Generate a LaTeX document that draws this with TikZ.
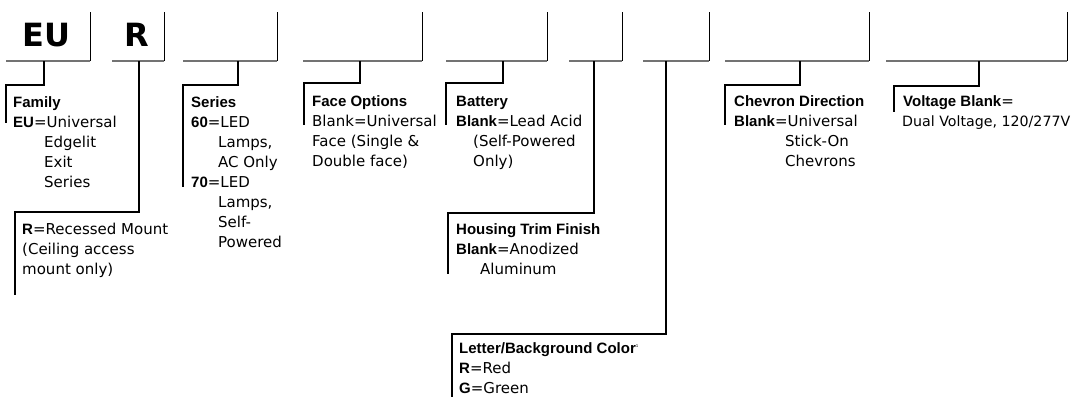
\documentclass[tikz,border=0pt]{standalone}
\usepackage{fontspec}
\setmainfont{DejaVu Sans}[BoldFont={Liberation Sans Bold}]
\newfontfamily\heavy{DejaVu Sans}
\tikzset{
  boxh/.style={draw=black!55, line width=1.3pt},
  boxv/.style={draw=black, line width=0.9pt},
  conn/.style={draw=black, line width=2.6pt, line join=miter, line cap=butt},
  desc/.style={anchor=north west, inner sep=0pt, align=left, font=\fontsize{15}{20}\selectfont},
  big/.style={anchor=base, inner sep=0pt, font=\heavy\bfseries\fontsize{32}{32}\selectfont}
}
\begin{document}
\begin{tikzpicture}[x=1pt, y=-1pt]
\useasboundingbox (0,0) rectangle (1075,396);
% code boxes: left x, right x
\foreach \n/\l/\r in {1/6/90, 2/112/164, 3/183/277, 4/303/422, 5/446/547, 6/569/622, 7/643/709, 8/725/869, 9/886/1067}{
  \draw[boxh] (\l,61) -- (\r,61);
  \draw[boxv] (\r,61) -- (\r,12);
}
\node[big] (eu) at (46.5,47) {EU};
\node[big] (r) at (137,47) {R};
% connector end points
\foreach \n/\d/\s/\x/\e in {1/44/85/6/123, 2/139/212/15/295, 3/238/85/183/187, 4/360/83/304/125, 5/503/83/446/125, 6/594/213/448/274, 7/666/334/452/397, 8/800/85/725/125, 9/979/86/894/112}{
  \coordinate (top\n) at (\d,61);
  \coordinate (end\n) at (\x,\e);
  \draw[conn] (top\n) -- (\d,\s) -- (\x,\s) -- (end\n);
}
% descriptions
\node[desc] (family) at (13,93) {\strut\textbf{Family}\\\textbf{EU}=Universal\\\hspace*{31pt}Edgelit\\\hspace*{31pt}Exit\\\hspace*{31pt}Series};
\node[desc] (mount) at (22,220) {\strut\textbf{R}=Recessed Mount\\(Ceiling access\\mount only)};
\node[desc] (series) at (191,93) {\strut\textbf{Series}\\\textbf{60}=LED\\\hspace*{27pt}Lamps,\\\hspace*{27pt}AC Only\\\textbf{70}=LED\\\hspace*{27pt}Lamps,\\\hspace*{27pt}Self-\\\hspace*{27pt}Powered};
\node[desc] (face) at (312,92) {\strut\textbf{Face Options}\\Blank=Universal\\Face (Single \&\\Double face)};
\node[desc] (battery) at (456,92) {\strut\textbf{Battery}\\\textbf{Blank}=Lead Acid\\\hspace*{17pt}(Self-Powered\\\hspace*{17pt}Only)};
\node[desc] (housing) at (456,220) {\strut\textbf{Housing Trim Finish}\\\textbf{Blank}=Anodized\\\hspace*{24pt}Aluminum};
\node[desc] (letter) at (459,339) {\strut\textbf{Letter/Background Color}\textsuperscript{\fontsize{4}{4}\selectfont 1}\\\textbf{R}=Red\\\textbf{G}=Green};
\node[desc] (chevron) at (734,92) {\strut\textbf{Chevron Direction}\\\textbf{Blank}=Universal\\\hspace*{51pt}Stick-On\\\hspace*{51pt}Chevrons};
\node[desc] (voltage) at (903,92) {\strut\textbf{Voltage Blank}=\\\hspace*{-1pt}{\fontsize{14.2}{20}\selectfont Dual Voltage, 120/277V}};
\end{tikzpicture}
\end{document}
